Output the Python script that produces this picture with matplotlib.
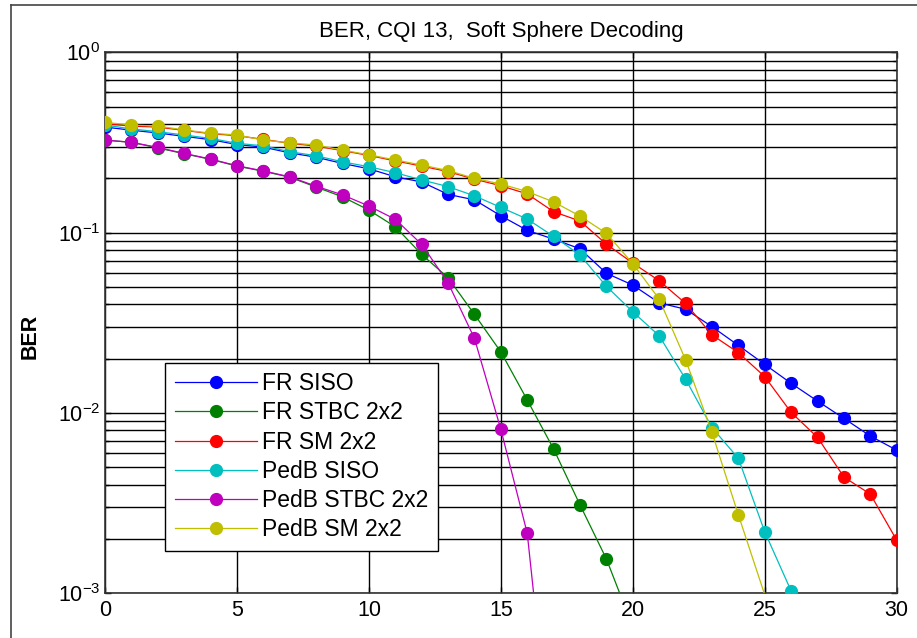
import numpy as np
import matplotlib.pyplot as plt
from matplotlib.lines import Line2D

plt.rcParams['font.family'] = ['Liberation Sans', 'DejaVu Sans']
plt.rcParams['mathtext.default'] = 'regular'

# SNR en dB
snr = np.arange(0, 31)

# BER por esquema
fr_siso = [0.385, 0.370, 0.357, 0.342, 0.328, 0.308, 0.298, 0.277, 0.262, 0.242, 0.226,
           0.204, 0.191, 0.163, 0.152, 0.124, 0.103, 0.092, 0.0814, 0.0595, 0.0512,
           0.0408, 0.0376, 0.0301, 0.0237, 0.0186, 0.0146, 0.01164, 0.00933, 0.00745, 0.00622]
fr_stbc = [0.326, 0.317, 0.295, 0.274, 0.255, 0.234, 0.219, 0.203, 0.179, 0.158, 0.1334,
           0.1078, 0.0758, 0.0562, 0.0352, 0.0218, 0.0118, 0.00631, 0.00309, 0.00155, 0.00065]
fr_sm = [0.402, 0.390, 0.385, 0.369, 0.354, 0.345, 0.329, 0.313, 0.302, 0.285, 0.268,
         0.250, 0.234, 0.218, 0.198, 0.182, 0.164, 0.1306, 0.116, 0.0863, 0.0678,
         0.0541, 0.0405, 0.0271, 0.0216, 0.0159, 0.01007, 0.00732, 0.00441, 0.00355, 0.00197]
pedb_siso = [0.395, 0.376, 0.363, 0.348, 0.333, 0.313, 0.303, 0.281, 0.267, 0.247, 0.232,
             0.215, 0.196, 0.180, 0.160, 0.138, 0.119, 0.0953, 0.0751, 0.0504, 0.0364,
             0.0268, 0.0154, 0.0083, 0.0056, 0.00219, 0.00103]
pedb_stbc = [0.326, 0.317, 0.297, 0.275, 0.256, 0.235, 0.220, 0.204, 0.181, 0.162, 0.1405,
             0.1186, 0.0861, 0.0527, 0.0259, 0.00811, 0.00215, 0.00009]
pedb_sm = [0.409, 0.395, 0.390, 0.371, 0.356, 0.348, 0.326, 0.315, 0.306, 0.287, 0.270,
           0.253, 0.237, 0.221, 0.200, 0.186, 0.169, 0.148, 0.1236, 0.0991, 0.0673,
           0.0428, 0.0197, 0.0078, 0.00272, 0.00098]

nombres = ['FR SISO', 'FR STBC 2x2', 'FR SM 2x2', 'PedB SISO', 'PedB STBC 2x2', 'PedB SM 2x2']
series = [fr_siso, fr_stbc, fr_sm, pedb_siso, pedb_stbc, pedb_sm]
colores = [(0, 0, 1), (0, 0.5, 0), (1, 0, 0), (0, 0.75, 0.75), (0.75, 0, 0.75), (0.75, 0.75, 0)]

fig = plt.figure(figsize=(9.17, 6.38), dpi=100)
ax = fig.add_axes([0.1145, 0.070, 0.8634, 0.848])

ymin = 1e-3
for y, c, nom in zip(series, colores, nombres):
    y = np.array(y)
    x = snr[:len(y)]
    # como en matlab, los puntos fuera del eje no llevan marcador
    visibles = list(y >= ymin * 0.999)
    ax.plot(x, y, '-', color=c, lw=0.9, marker='o', ms=8.5, mec=c, mfc=c,
            markevery=visibles, label=nom, zorder=3)

ax.set_yscale('log')
ax.set_xlim(0, 30)
ax.set_ylim(1e-3, 1)
ax.set_xticks(np.arange(0, 31, 5))
ax.grid(True, which='major', color='black', lw=1.0, ls='-', zorder=0)
ax.grid(True, which='minor', axis='y', color='black', lw=1.0, ls='-', zorder=0)
ax.set_axisbelow(True)
ax.tick_params(which='both', direction='in', top=True, right=True, labelsize=15.5,
               length=4, width=1.0, color='black')
ax.tick_params(which='minor', length=3)
ax.tick_params(axis='x', pad=5)
for s in ax.spines.values():
    s.set_color('#333333')
    s.set_linewidth(1.2)

ax.set_title('BER, CQI 13,  Soft Sphere Decoding', fontsize=16, pad=11)
ax.set_ylabel('BER', fontsize=15.5, fontweight='bold')
ax.yaxis.set_label_coords(-0.081, 0.475)

leg = ax.legend(loc='lower left', bbox_to_anchor=(0.0758, 0.0787), borderaxespad=0,
                fontsize=16.5, handlelength=3.6, handletextpad=0.22, labelspacing=0.27,
                borderpad=0.42, fancybox=False, framealpha=1, edgecolor='black')
leg.get_frame().set_linewidth(1.0)
leg.set_zorder(5)

# marco de la figura
fig.add_artist(Line2D([0.012, 0.012], [0, 0.992], transform=fig.transFigure, color='#444444', lw=1.2))
fig.add_artist(Line2D([0.012, 1], [0.992, 0.992], transform=fig.transFigure, color='#444444', lw=1.2))

fig.savefig('out.png', dpi=100)
